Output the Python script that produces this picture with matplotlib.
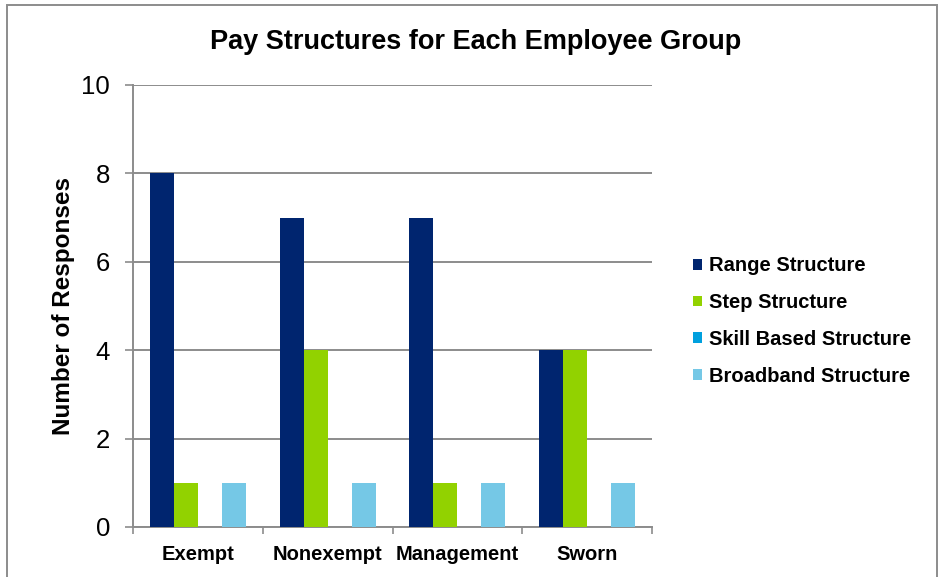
import matplotlib
matplotlib.use("Agg")
import matplotlib.pyplot as plt
import numpy as np
from matplotlib.patches import Rectangle

groups = ["Exempt", "Nonexempt", "Management", "Sworn"]
series_names = ["Range Structure", "Step Structure", "Skill Based Structure", "Broadband Structure"]
range_structure = [8, 7, 7, 4]
step_structure = [1, 4, 1, 4]
skill_based_structure = [0, 0, 0, 0]
broadband_structure = [1, 1, 1, 1]
y_ticks = [0, 2, 4, 6, 8, 10]

colors = ["#00256F", "#92D200", "#00A0DE", "#75C8E6"]
series = [range_structure, step_structure, skill_based_structure, broadband_structure]

plt.rcParams["font.family"] = ["Liberation Sans", "DejaVu Sans"]

fig = plt.figure(figsize=(9.41, 5.77), dpi=100)
W, H = 941, 577
ax = fig.add_axes([133 / W, 1 - 527 / H, (652 - 133) / W, (527 - 85) / H])

x = np.arange(len(groups))
bw = 0.185
for i, (vals, col) in enumerate(zip(series, colors)):
    offs = (i - 1.5) * bw
    ax.bar(x + offs, vals, width=bw, color=col, label=series_names[i],
           zorder=3, linewidth=0)

ax.set_xlim(-0.5, len(groups) - 0.5)
ax.set_ylim(0, 10)
ax.set_yticks(y_ticks)
ax.set_yticklabels([str(t) for t in y_ticks], fontsize=18.5)
ax.yaxis.grid(True, color="#8C8C8C", linewidth=1.4, zorder=0)
ax.set_axisbelow(True)

# category labels centered, tick marks on category boundaries
ax.set_xticks(x)
ax.set_xticklabels(groups, fontsize=14.5, fontweight="bold")
ax.tick_params(axis="x", length=0, pad=13)
ax.set_xticks(np.arange(-0.5, len(groups)), minor=True)
ax.tick_params(axis="x", which="minor", length=5, color="#8C8C8C", width=1.2)
ax.tick_params(axis="y", length=6, color="#8C8C8C", width=1.2, pad=10.5)

for s in ["top", "right"]:
    ax.spines[s].set_visible(False)
for s in ["left", "bottom"]:
    ax.spines[s].set_color("#8C8C8C")
    ax.spines[s].set_linewidth(1.4)

ax.set_ylabel("Number of Responses", fontsize=17.5, fontweight="bold")
ax.yaxis.set_label_coords(-0.111, 0.5)

fig.text(476 / W, 1 - 42 / H, "Pay Structures for Each Employee Group",
         ha="center", va="center", fontsize=19.5, fontweight="bold")

leg = ax.legend(loc="center left", bbox_to_anchor=(683 / W, 1 - 321 / H),
                bbox_transform=fig.transFigure, frameon=False,
                prop={"size": 14.5, "weight": "bold"}, borderpad=0,
                handlelength=0.45, handleheight=0.45, handletextpad=0.35,
                labelspacing=0.88)

# outer chart border
fig.patches.append(Rectangle((7 / W, -0.05), (937 - 7) / W, 1.05 - 5 / H,
                             transform=fig.transFigure, fill=False,
                             edgecolor="#8C8C8C", linewidth=1.4))

fig.savefig("out.png", dpi=100)
